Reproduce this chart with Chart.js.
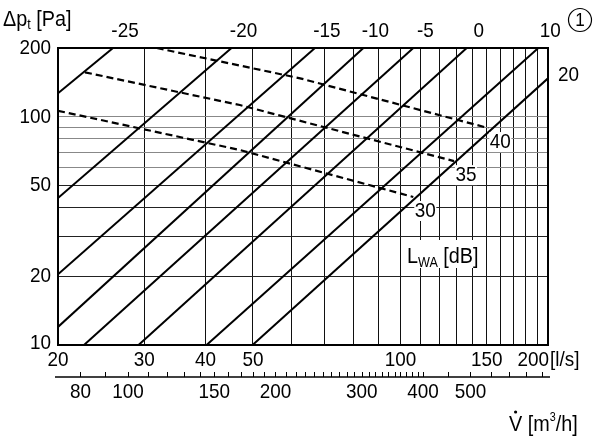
<!DOCTYPE html>
<html>
<head>
<meta charset="utf-8">
<script src="https://cdn.jsdelivr.net/npm/chart.js@4.4.1/dist/chart.umd.min.js"></script>
<style>
  html, body { margin: 0; background: #fff; }
</style>
</head>
<body>
<canvas id="chart" width="600" height="436"></canvas>
<script>
// values: flow V in l/s, pressure drop in Pa
const solidLabels = ["-25", "-20", "-15", "-10", "-5", "0", "10", "20"];
const solidStartV = [20, 20, 20, 20, 22.6, 29.2, 40.2, 49.9];
const solidStartP = [126.6, 44.0, 20.4, 12.0, 10, 10, 10, 10];
const solidEndV = [25.9, 45.2, 66.9, 84.0, 106.2, 136.5, 191.1, 200];
const solidEndP = [200, 200, 200, 200, 200, 200, 200, 147.3];

// sound power level curves (dashed)
const lwaLabels = ["30", "35", "40"];
const lwaV = [[20, 47.0, 106.2], [22.7, 47.0, 128.6], [31.8, 62.4, 151.1]];
const lwaP = [[106.2, 71.5, 44.5], [156.5, 112.5, 63.9], [200, 147.3, 89.2]];

const xGrid = [20, 30, 40, 50, 60, 70, 80, 90, 100, 110, 120, 130, 140, 150, 160, 170, 180, 190, 200];
const yGrid = [10, 20, 30, 40, 50, 60, 70, 80, 90, 100, 200];
const xLabels = [20, 30, 40, 50, 100, 150, 200];
const yLabels = [10, 20, 50, 100, 200];

// second scale in m3/h
const m3hTicks = [80, 90, 100, 110, 120, 130, 140, 150, 160, 170, 180, 190, 200, 210, 220, 230, 240, 250,
  260, 270, 280, 290, 300, 310, 320, 330, 340, 350, 360, 370, 380, 390, 400, 450, 500, 550, 600, 650, 700];
const m3hLabels = [80, 100, 150, 200, 300, 400, 500];

const FONT = '"Liberation Sans", Arial, sans-serif';
const SX = 0.9; // the original lettering is a condensed face

const datasets = [];
solidLabels.forEach((lab, i) => {
  datasets.push({
    label: lab + " dB",
    data: [{ x: solidStartV[i], y: solidStartP[i] }, { x: solidEndV[i], y: solidEndP[i] }],
    borderColor: "#000",
    borderWidth: 2,
    pointRadius: 0,
    showLine: true
  });
});
lwaLabels.forEach((lab, i) => {
  datasets.push({
    label: "LWA " + lab,
    data: lwaV[i].map((v, j) => ({ x: v, y: lwaP[i][j] })),
    borderColor: "#000",
    borderWidth: 2.2,
    borderDash: [7, 4],
    pointRadius: 0,
    showLine: true
  });
});

function txt(ctx, s, x, y, size, align, base) {
  ctx.font = size + "px " + FONT;
  ctx.textAlign = align || "center";
  ctx.textBaseline = base || "middle";
  ctx.save();
  ctx.translate(x, y);
  ctx.scale(SX, 1);
  ctx.fillText(s, 0, 0);
  ctx.restore();
  return ctx.measureText(s).width * SX;
}

const overlay = {
  id: "overlay",
  afterDraw(chart) {
    const { ctx, chartArea: a, scales: { x, y } } = chart;
    ctx.save();
    ctx.fillStyle = "#000";
    ctx.strokeStyle = "#000";

    // frame
    ctx.lineWidth = 2;
    ctx.strokeRect(a.left, a.top, a.right - a.left, a.bottom - a.top);

    // dB labels along the top / right
    solidLabels.forEach((lab, i) => {
      if (solidEndP[i] >= 200) {
        txt(ctx, lab, x.getPixelForValue(solidEndV[i]) + 12, 31, 21);
      } else {
        txt(ctx, lab, a.right + 10, y.getPixelForValue(solidEndP[i]) - 3, 21, "left");
      }
    });

    // LWA labels with white boxes
    lwaLabels.forEach((lab, i) => {
      const ex = x.getPixelForValue(lwaV[i][2]) + 12;
      const ey = y.getPixelForValue(lwaP[i][2]) + 14;
      ctx.fillStyle = "#fff";
      ctx.fillRect(ex - 11, ey - 10, 22, 20);
      ctx.fillStyle = "#000";
      txt(ctx, lab, ex, ey, 21);
    });

    // L_WA [dB]
    ctx.fillStyle = "#fff";
    ctx.fillRect(404, 240, 82, 28);
    ctx.fillStyle = "#000";
    let cx = 407;
    cx += txt(ctx, "L", cx, 263, 22, "left", "alphabetic");
    cx += txt(ctx, "WA", cx, 267, 14, "left", "alphabetic");
    txt(ctx, " [dB]", cx, 263, 22, "left", "alphabetic");

    // y tick labels
    yLabels.forEach(v => txt(ctx, String(v), a.left - 7, y.getPixelForValue(v) - (v === 10 ? 2 : 0), 21, "right"));

    // x tick labels (l/s)
    xLabels.forEach(v => {
      const px = x.getPixelForValue(v);
      if (v === 200) {
        txt(ctx, "200", px + 1, 360, 21, "right");
        txt(ctx, "[l/s]", px + 2, 360, 21, "left");
      } else {
        txt(ctx, String(v), px, 360, 21);
      }
    });

    // m3/h scale
    const ay = a.bottom + 32;
    ctx.lineWidth = 1.5;
    ctx.beginPath();
    ctx.moveTo(a.left - 3, ay);
    ctx.lineTo(a.right + 2, ay);
    ctx.stroke();
    ctx.lineWidth = 1;
    ctx.beginPath();
    m3hTicks.forEach(v => {
      const px = Math.round(x.getPixelForValue(v / 3.6)) + 0.5;
      ctx.moveTo(px, ay);
      ctx.lineTo(px, ay - 5);
    });
    ctx.stroke();
    m3hLabels.forEach(v => txt(ctx, String(v), x.getPixelForValue(v / 3.6), ay + 15, 21));

    // axis titles
    cx = 3;
    cx += txt(ctx, "\u0394p", cx, 26, 22, "left", "alphabetic");
    cx += txt(ctx, "t", cx, 29, 14, "left", "alphabetic");
    txt(ctx, " [Pa]", cx, 26, 22, "left", "alphabetic");

    cx = 509;
    const vw = txt(ctx, "V", cx, 431, 22, "left", "alphabetic");
    ctx.beginPath();
    ctx.arc(cx + vw / 2, 412, 1.6, 0, Math.PI * 2);
    ctx.fill();
    cx += vw;
    cx += txt(ctx, " [m", cx, 431, 22, "left", "alphabetic");
    cx += txt(ctx, "3", cx, 421, 12, "left", "alphabetic");
    txt(ctx, "/h]", cx, 431, 22, "left", "alphabetic");

    // circled 1
    ctx.lineWidth = 1.2;
    ctx.beginPath();
    ctx.arc(580, 20, 11.5, 0, Math.PI * 2);
    ctx.stroke();
    txt(ctx, "1", 580, 21, 19);

    ctx.restore();
  }
};

new Chart(document.getElementById("chart"), {
  type: "scatter",
  data: { datasets },
  options: {
    responsive: false,
    animation: false,
    layout: { padding: { left: 58, right: 52, top: 48, bottom: 91 } },
    plugins: { legend: { display: false }, tooltip: { enabled: false } },
    scales: {
      x: {
        type: "logarithmic",
        min: 20,
        max: 200,
        afterBuildTicks: s => { s.ticks = xGrid.map(v => ({ value: v })); },
        ticks: { display: false },
        grid: { color: "#111", lineWidth: 1, drawTicks: false },
        border: { display: false }
      },
      y: {
        type: "logarithmic",
        min: 10,
        max: 200,
        afterBuildTicks: s => { s.ticks = yGrid.map(v => ({ value: v })); },
        ticks: { display: false },
        grid: {
          color: c => (c.tick && c.tick.value > 50 && c.tick.value < 200) ? "#888" : "#222",
          lineWidth: 1,
          drawTicks: false
        },
        border: { display: false }
      }
    }
  },
  plugins: [overlay]
});
</script>
</body>
</html>
